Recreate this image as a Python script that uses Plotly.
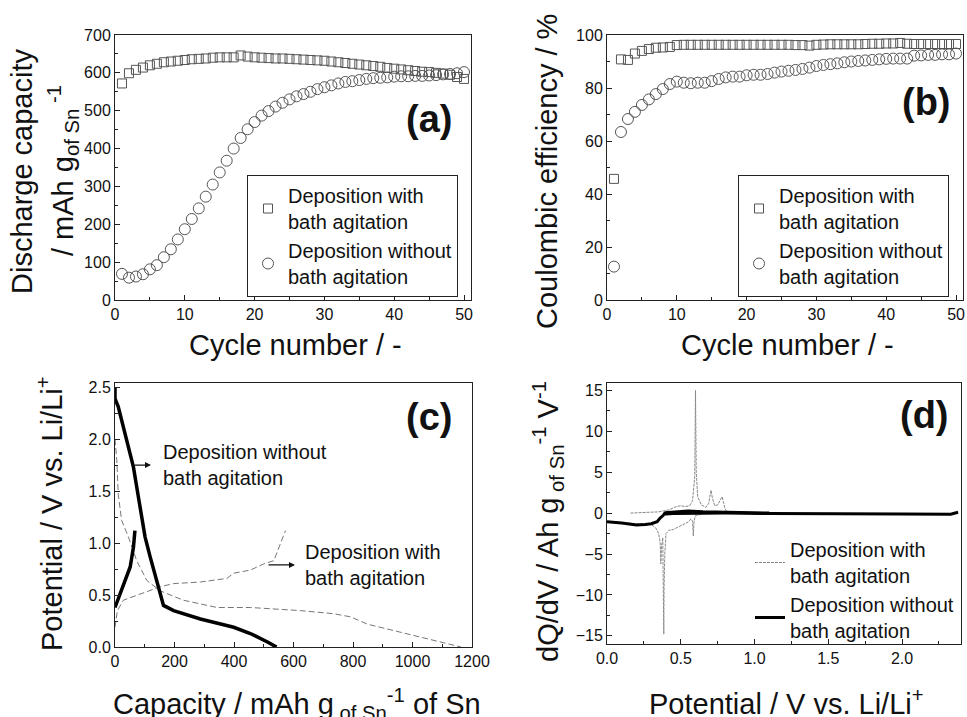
import plotly.graph_objects as go

# ---------------- data ----------------
cycles = list(range(1, 51))

cap_with = [572, 599, 608, 614, 620, 624, 628, 630, 632, 634, 636, 637, 638, 640, 641, 641, 641, 646, 643, 641,
            640, 639, 638, 638, 637, 636, 635, 634, 633, 632, 630, 628, 626, 624, 622, 620, 618, 616, 613, 611,
            609, 607, 605, 603, 602, 600, 598, 595, 589, 584]
cap_without = [69, 59, 62, 68, 81, 92, 113, 134, 160, 187, 214, 242, 273, 305, 337, 368, 400, 428, 451, 470,
               487, 499, 511, 521, 530, 538, 544, 550, 557, 562, 567, 572, 576, 578, 581, 584, 586, 587, 588, 590,
               591, 591, 592, 592, 593, 594, 596, 597, 599, 602]

ce_with = [45.7, 90.8, 90.6, 93.0, 94.0, 94.7, 95.2, 95.3, 95.5, 96.2, 96.3, 96.3, 96.3, 96.3, 96.3, 96.3, 96.3,
           96.3, 96.3, 96.3, 96.3, 96.3, 96.3, 96.3, 96.3, 96.3, 96.2, 96.2, 96.0, 96.3, 96.4, 96.5, 96.5, 96.5,
           96.5, 96.5, 96.6, 96.7, 96.7, 96.8, 96.8, 97.0, 96.7, 96.6, 96.6, 96.6, 96.6, 96.6, 96.6, 96.6]
ce_without = [12.6, 63.4, 68.3, 71.0, 73.6, 75.7, 77.7, 79.6, 81.5, 82.4, 82.0, 81.8, 82.0, 82.0, 82.6, 83.4,
              84.0, 84.3, 84.3, 84.8, 85.0, 85.0, 85.3, 85.8, 86.2, 86.5, 86.8, 87.2, 87.7, 88.3, 88.7, 89.0,
              89.3, 89.7, 90.0, 90.2, 90.4, 90.6, 90.8, 91.0, 91.1, 91.1, 91.1, 92.2, 92.3, 92.5, 92.5, 92.7,
              92.7, 93.0]

# (c) charge/discharge curves, capacity (mAh/g) and potential (V)
dis_wo_cap = [0, 0, 11, 28, 45, 62, 73, 84, 101, 118, 140, 163, 197, 287, 399, 455, 511, 543]
dis_wo_v = [2.50, 2.39, 2.31, 2.12, 1.92, 1.73, 1.54, 1.35, 1.06, 0.87, 0.64, 0.40, 0.35, 0.27, 0.19, 0.13, 0.05, 0.0]
chg_wo_cap = [0, 17, 39, 51, 62, 67]
chg_wo_v = [0.38, 0.51, 0.66, 0.77, 0.96, 1.12]

dis_w_cap = [0, 6, 11, 22, 45, 73, 107, 152, 230, 343, 455, 624, 736, 792, 848, 961, 1073, 1163]
dis_w_v = [2.00, 1.80, 1.47, 1.22, 1.06, 0.83, 0.64, 0.54, 0.45, 0.38, 0.38, 0.35, 0.32, 0.29, 0.22, 0.14, 0.06, 0.0]
chg_w_cap = [0, 8, 28, 84, 152, 197, 287, 376, 399, 455, 500, 534, 551, 573]
chg_w_v = [0.19, 0.35, 0.45, 0.51, 0.58, 0.61, 0.625, 0.66, 0.71, 0.74, 0.80, 0.83, 0.96, 1.12]

# (d) differential capacity, potential (V) and dQ/dV
w_chg_v = [0.16, 0.25, 0.35, 0.42, 0.47, 0.50, 0.53, 0.56, 0.58, 0.595, 0.600, 0.605, 0.615, 0.64, 0.67, 0.69,
           0.705, 0.715, 0.73, 0.75, 0.77, 0.78, 0.79, 0.80, 0.82, 0.84]
w_chg_q = [0.0, 0.05, 0.15, 0.4, 0.8, 0.9, 0.8, 0.9, 1.5, 4.5, 15.0, 5.0, 2.0, 1.0, 0.7, 1.2,
           2.8, 1.8, 0.9, 1.0, 1.6, 2.0, 1.3, 0.5, 0.1, 0.0]
w_dis_v = [1.10, 0.80, 0.65, 0.60, 0.59, 0.585, 0.58, 0.57, 0.55, 0.50, 0.45, 0.42, 0.40, 0.392, 0.387, 0.385,
           0.382, 0.378, 0.375, 0.37, 0.365, 0.36, 0.35, 0.33, 0.30, 0.25, 0.20, 0.10, 0.0]
w_dis_q = [0.0, 0.0, -0.1, -0.3, -1.0, -2.8, -1.0, -0.7, -1.1, -1.6, -2.0, -2.1, -2.5, -5.0, -9.0, -14.8,
           -8.0, -3.0, -3.5, -4.0, -6.2, -3.5, -2.5, -1.8, -1.4, -1.3, -1.3, -1.15, -1.1]
wo_dis_v = [2.38, 2.33, 2.0, 1.5, 1.1, 0.8, 0.6, 0.45, 0.40, 0.39, 0.38, 0.36, 0.34, 0.30, 0.26, 0.20, 0.10, 0.05, 0.0]
wo_dis_q = [0.1, -0.15, -0.1, -0.1, -0.05, 0.0, 0.0, -0.05, -0.1, -0.05, -0.3, -0.6, -1.05, -1.3, -1.4, -1.45,
            -1.2, -1.1, -1.05]
wo_chg_v = [0.39, 0.45, 0.55, 0.65, 0.8, 1.0, 1.1]
wo_chg_q = [0.05, 0.15, 0.25, 0.15, 0.1, 0.05, 0.0]

label_with = "Deposition with<br>bath agitation"
label_without = "Deposition without<br>bath agitation"

FONT = "Liberation Sans, Arial, sans-serif"
AX = "#222222"
MK = "#555555"

fig = go.Figure()

# (a)
fig.add_trace(go.Scatter(x=cycles, y=cap_with, mode="markers", name=label_with, legend="legend",
                         marker=dict(symbol="square-open", size=9, color=MK, line=dict(width=1, color=MK)),
                         xaxis="x", yaxis="y"))
fig.add_trace(go.Scatter(x=cycles, y=cap_without, mode="markers", name=label_without, legend="legend",
                         marker=dict(symbol="circle-open", size=11, color=MK, line=dict(width=1, color=MK)),
                         xaxis="x", yaxis="y"))
# (b)
fig.add_trace(go.Scatter(x=cycles, y=ce_with, mode="markers", name=label_with, legend="legend2",
                         marker=dict(symbol="square-open", size=9, color=MK, line=dict(width=1, color=MK)),
                         xaxis="x2", yaxis="y2"))
fig.add_trace(go.Scatter(x=cycles, y=ce_without, mode="markers", name=label_without, legend="legend2",
                         marker=dict(symbol="circle-open", size=11, color=MK, line=dict(width=1, color=MK)),
                         xaxis="x2", yaxis="y2"))
# (c)
for xs, ys in [(dis_w_cap, dis_w_v), (chg_w_cap, chg_w_v)]:
    fig.add_trace(go.Scatter(x=xs, y=ys, mode="lines", showlegend=False,
                             line=dict(color="#777777", width=1, dash="6px,3px"), xaxis="x3", yaxis="y3"))
for xs, ys in [(dis_wo_cap, dis_wo_v), (chg_wo_cap, chg_wo_v)]:
    fig.add_trace(go.Scatter(x=xs, y=ys, mode="lines", showlegend=False,
                             line=dict(color="black", width=3.5), xaxis="x3", yaxis="y3"))
# (d)
fig.add_trace(go.Scatter(x=w_chg_v, y=w_chg_q, mode="lines", name=label_with, legend="legend3",
                         line=dict(color="#888888", width=1, dash="3px,1px"), xaxis="x4", yaxis="y4"))
fig.add_trace(go.Scatter(x=w_dis_v, y=w_dis_q, mode="lines", showlegend=False,
                         line=dict(color="#888888", width=1, dash="3px,1px"), xaxis="x4", yaxis="y4"))
fig.add_trace(go.Scatter(x=wo_dis_v, y=wo_dis_q, mode="lines", name=label_without, legend="legend3",
                         line=dict(color="black", width=3), xaxis="x4", yaxis="y4"))
fig.add_trace(go.Scatter(x=wo_chg_v, y=wo_chg_q, mode="lines", showlegend=False,
                         line=dict(color="black", width=3), xaxis="x4", yaxis="y4"))


def axstyle(rng, dtick, mdtick, domain, anchor, fmt=None):
    d = dict(range=rng, dtick=dtick, domain=domain, anchor=anchor, showline=True, mirror=True,
             linecolor=AX, linewidth=1, ticks="inside", ticklen=5, tickcolor=AX, showgrid=False,
             zeroline=False, tickfont=dict(size=16, color="#111111", family=FONT),
             minor=dict(ticks="inside", ticklen=3, tickcolor=AX, dtick=mdtick, showgrid=False))
    if fmt:
        d["tickformat"] = fmt
    return d


W, H = 967, 717
def dx(a, b):
    return [a / W, b / W]
def dy(top, bot):
    return [1 - bot / H, 1 - top / H]

fig.update_layout(
    width=W, height=H, autosize=False,
    margin=dict(l=0, r=0, t=0, b=0, pad=0, autoexpand=False),
    paper_bgcolor="white", plot_bgcolor="white",
    font=dict(family=FONT, color="#111111"),
    xaxis=axstyle([0, 51], 10, 5, dx(115, 471), "y"),
    yaxis=axstyle([0, 700], 100, 50, dy(35, 300), "x"),
    xaxis2=axstyle([0, 51], 10, 5, dx(607, 963), "y2"),
    yaxis2=axstyle([0, 100], 20, 10, dy(35, 300), "x2"),
    xaxis3=axstyle([0, 1200], 200, 100, dx(115, 472), "y3"),
    yaxis3=axstyle([0, 2.54], 0.5, 0.25, dy(383, 647), "x3", ".1f"),
    xaxis4=axstyle([0, 2.4], 0.5, 0.25, dx(607, 961), "y4", ".1f"),
    yaxis4=axstyle([-16, 15.9], 5, 2.5, dy(383, 644), "x4"),
    legend=dict(x=247 / W, y=1 - 175 / H, xanchor="left", yanchor="top", bgcolor="white",
                bordercolor=AX, borderwidth=1, font=dict(size=20, family=FONT), tracegroupgap=0),
    legend2=dict(x=738 / W, y=1 - 175 / H, xanchor="left", yanchor="top", bgcolor="white",
                 bordercolor=AX, borderwidth=1, font=dict(size=20, family=FONT), tracegroupgap=0),
    legend3=dict(x=750 / W, y=1 - 530 / H, xanchor="left", yanchor="top", bgcolor="rgba(0,0,0,0)",
                 borderwidth=0, font=dict(size=20, family=FONT), tracegroupgap=0),
)

TF = dict(size=29, family=FONT, color="#111111")
ann = []
def txt(x, y, text, angle=0, font=TF, xa="center", ya="middle"):
    ann.append(dict(x=x / W, y=1 - y / H, xref="paper", yref="paper", text=text, showarrow=False,
                    textangle=angle, font=font, xanchor=xa, yanchor=ya))

# axis titles
txt(22, 172, "Discharge capacity", -90)
txt(63, 171, "/ mAh g<sub>of Sn</sub><sup> -1</sup>", -90)
txt(295, 345, "Cycle number / -")
txt(547, 172, "Coulombic efficiency / %", -90)
txt(787, 345, "Cycle number / -")
txt(50, 514, "Potential / V vs. Li/Li<sup>+</sup>", -90)
txt(297, 704, "Capacity / mAh g<sub> of Sn</sub><sup>-1</sup> of Sn")
txt(548, 522, "dQ/dV / Ah g<sub> of Sn</sub><sup>-1</sup> V<sup>-1</sup>", -90)
txt(786, 702, "Potential / V vs. Li/Li<sup>+</sup>")

# panel labels
PF = dict(size=38, family=FONT, color="#111111")
txt(429, 119, "<b>(a)</b>", font=PF)
txt(926, 102, "<b>(b)</b>", font=PF)
txt(429, 417, "<b>(c)</b>", font=PF)
txt(924, 415, "<b>(d)</b>", font=PF)

# (c) labels with arrows
LF = dict(size=20, family=FONT, color="#111111")
ann.append(dict(x=155, y=1.75, xref="x3", yref="y3", text=label_without, showarrow=False,
                font=LF, xanchor="left", yanchor="middle", align="left"))
ann.append(dict(x=121, y=1.75, xref="x3", yref="y3", text="", showarrow=True, ax=-18, ay=0,
                arrowhead=2, arrowsize=1, arrowwidth=1.2, arrowcolor="#111111"))
ann.append(dict(x=632, y=0.79, xref="x3", yref="y3", text=label_with, showarrow=False,
                font=LF, xanchor="left", yanchor="middle", align="left"))
ann.append(dict(x=605, y=0.79, xref="x3", yref="y3", text="", showarrow=True, ax=-28, ay=0,
                arrowhead=2, arrowsize=1, arrowwidth=1.2, arrowcolor="#111111"))

fig.update_layout(annotations=ann)
fig.write_html("out.html", config={"displayModeBar": False, "responsive": False},
               post_script="document.body.style.margin='0';")
